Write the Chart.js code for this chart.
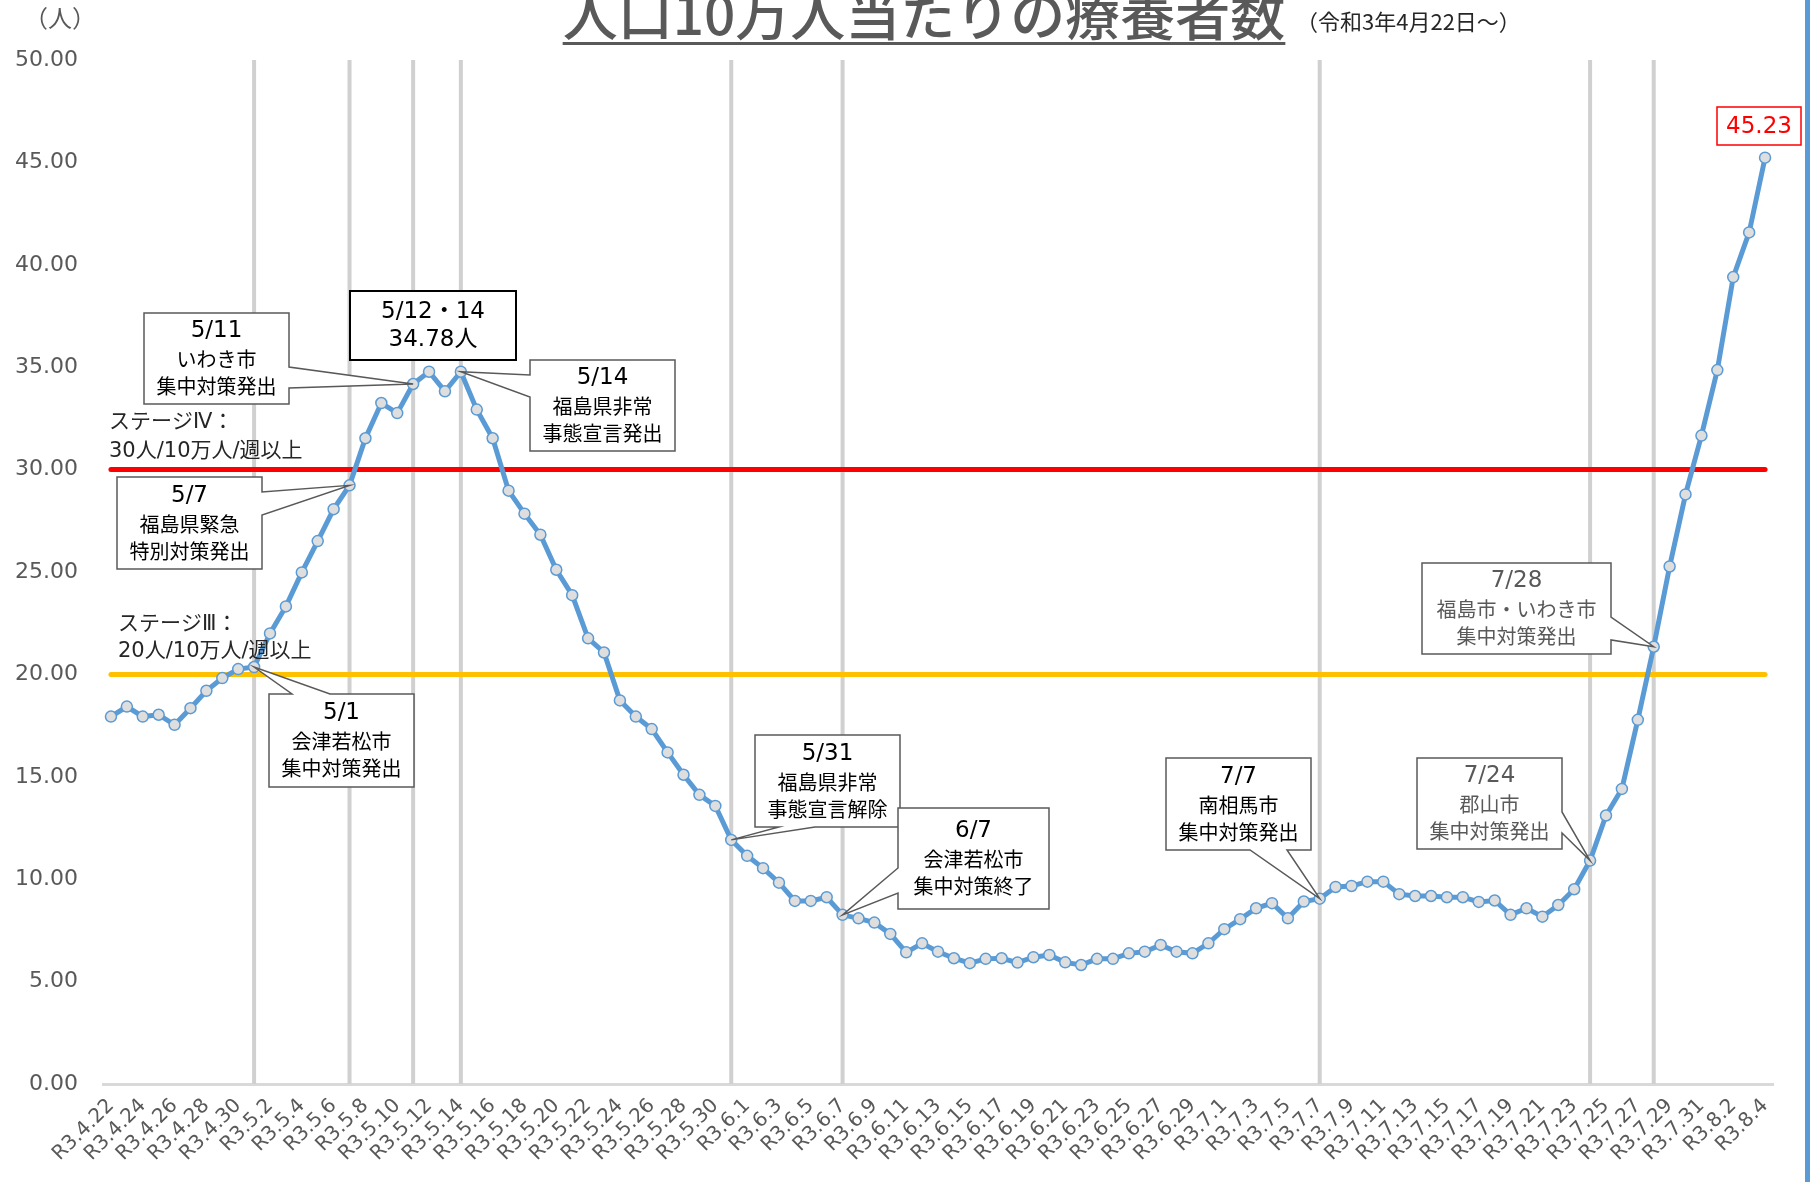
<!DOCTYPE html>
<html>
<head>
<meta charset="utf-8">
<script src="https://cdn.jsdelivr.net/npm/chart.js@4"></script>
<style>
html, body { margin: 0; padding: 0; background: #fff; }
canvas { display: block; }
</style>
</head>
<body>
<canvas id="chart" width="1812" height="1182"></canvas>
<script>
var CJK = "'Noto Sans CJK JP', sans-serif";
var NUM = "'DejaVu Sans', 'Noto Sans CJK JP', sans-serif";

// categories: R3.4.22 .. R3.8.4, one per day
var monthRanges = [[4, 22, 30], [5, 1, 31], [6, 1, 30], [7, 1, 31], [8, 1, 4]];
var labels = [];
monthRanges.forEach(function (m) {
    for (var d = m[1]; d <= m[2]; d++) labels.push('R3.' + m[0] + '.' + d);
});

// 療養者数 per 100k
var values = [
    17.94, 18.43, 17.94, 18.03, 17.54, 18.35, 19.20, 19.82, 20.26,
    20.36, 22.00, 23.32, 24.98, 26.51, 28.07, 29.23, 31.53, 33.25, 32.76,
    34.18, 34.78, 33.82, 34.78, 32.93, 31.53, 28.97, 27.85, 26.82, 25.11,
    23.87, 21.76, 21.07, 18.73, 17.94, 17.33, 16.19, 15.10, 14.12, 13.58,
    11.92,
    11.14, 10.54, 9.83, 8.94, 8.94, 9.12, 8.26, 8.09, 7.88, 7.33,
    6.43, 6.87, 6.46, 6.14, 5.90, 6.11, 6.14, 5.93, 6.19, 6.30,
    5.94, 5.81, 6.11, 6.11, 6.38, 6.46, 6.79, 6.46, 6.38, 6.87,
    7.56, 8.05, 8.58, 8.83, 8.09, 8.91, 9.05, 9.62, 9.67, 9.88,
    9.88, 9.27, 9.18, 9.18, 9.12, 9.12, 8.89, 8.96, 8.26, 8.58,
    8.17, 8.74, 9.51, 10.91, 13.11, 14.41, 17.78, 21.35, 25.27, 28.79,
    31.66, 34.86, 39.40, 41.58, 45.23
];

var eventDates = ['R3.5.1', 'R3.5.7', 'R3.5.11', 'R3.5.14', 'R3.5.31', 'R3.6.7', 'R3.7.7', 'R3.7.24', 'R3.7.28'];

var stageValues = [30, 20];
var stageColors = ['#ff0000', '#ffc000'];
var stageTexts = [['ステージⅣ：', '30人/10万人/週以上'], ['ステージⅢ：', '20人/10万人/週以上']];

// callout boxes: box = [left, top, right, bottom], wedge = base on the given side
var callouts = [
    { date: 'R3.5.11', box: [144, 313, 289, 404], side: 'right', wedge: [367, 388], lines: ['5/11', 'いわき市', '集中対策発出'] },
    { date: 'R3.5.14', box: [530, 360, 675, 451], side: 'left', wedge: [375, 397], lines: ['5/14', '福島県非常', '事態宣言発出'] },
    { date: 'R3.5.7', box: [117, 477, 262, 569], side: 'right', wedge: [492, 515], lines: ['5/7', '福島県緊急', '特別対策発出'] },
    { date: 'R3.5.1', box: [269, 694, 414, 787], side: 'top', wedge: [292, 330], lines: ['5/1', '会津若松市', '集中対策発出'] },
    { date: 'R3.5.31', box: [755, 735, 900, 827], side: 'bottom', wedge: [779, 815], lines: ['5/31', '福島県非常', '事態宣言解除'] },
    { date: 'R3.6.7', box: [898, 808, 1049, 909], side: 'left', wedge: [868, 893], lines: ['6/7', '会津若松市', '集中対策終了'] },
    { date: 'R3.7.7', box: [1166, 758, 1311, 850], side: 'bottom', wedge: [1250, 1287], lines: ['7/7', '南相馬市', '集中対策発出'] },
    { date: 'R3.7.24', box: [1417, 758, 1562, 849], side: 'right', wedge: [812, 833], lines: ['7/24', '郡山市', '集中対策発出'], color: '#595959' },
    { date: 'R3.7.28', box: [1422, 563, 1611, 654], side: 'right', wedge: [617, 640], lines: ['7/28', '福島市・いわき市', '集中対策発出'], color: '#595959' }
];

function pointAt(chart, date) {
    var i = labels.indexOf(date);
    var el = chart.getDatasetMeta(0).data[i];
    return { x: el.x, y: el.y };
}

function drawCallout(ctx, tip, c) {
    var l = c.box[0], t = c.box[1], r = c.box[2], b = c.box[3];
    var a = c.wedge[0], e = c.wedge[1];
    ctx.beginPath();
    ctx.moveTo(l, t);
    if (c.side === 'top') { ctx.lineTo(a, t); ctx.lineTo(tip.x, tip.y); ctx.lineTo(e, t); }
    ctx.lineTo(r, t);
    if (c.side === 'right') { ctx.lineTo(r, a); ctx.lineTo(tip.x, tip.y); ctx.lineTo(r, e); }
    ctx.lineTo(r, b);
    if (c.side === 'bottom') { ctx.lineTo(e, b); ctx.lineTo(tip.x, tip.y); ctx.lineTo(a, b); }
    ctx.lineTo(l, b);
    if (c.side === 'left') { ctx.lineTo(l, e); ctx.lineTo(tip.x, tip.y); ctx.lineTo(l, a); }
    ctx.closePath();
    ctx.fillStyle = '#fff';
    ctx.fill();
    ctx.strokeStyle = '#595959';
    ctx.lineWidth = 1.5;
    ctx.stroke();

    var cx = (l + r) / 2, cy = (t + b) / 2;
    ctx.fillStyle = c.color || '#000';
    ctx.textAlign = 'center';
    ctx.textBaseline = 'middle';
    ctx.font = '23px ' + NUM;
    ctx.fillText(c.lines[0], cx, cy - 27);
    ctx.font = '20px ' + CJK;
    ctx.fillText(c.lines[1], cx, cy + 1);
    ctx.fillText(c.lines[2], cx, cy + 28);
}

var overlay = {
    id: 'overlay',
    beforeDatasetsDraw: function (chart) {
        var ctx = chart.ctx, area = chart.chartArea;
        var xs = chart.scales.x, ys = chart.scales.y;
        ctx.save();
        // event lines
        ctx.strokeStyle = '#d0d0d0';
        ctx.lineWidth = 4;
        eventDates.forEach(function (d) {
            var x = xs.getPixelForValue(labels.indexOf(d));
            ctx.beginPath();
            ctx.moveTo(x, area.top);
            ctx.lineTo(x, area.bottom);
            ctx.stroke();
        });
        // stage lines
        var x0 = xs.getPixelForValue(0), x1 = xs.getPixelForValue(labels.length - 1);
        ctx.lineCap = 'round';
        ctx.lineWidth = 5;
        stageValues.forEach(function (v, k) {
            var y = ys.getPixelForValue(v);
            ctx.strokeStyle = stageColors[k];
            ctx.beginPath();
            ctx.moveTo(x0, y);
            ctx.lineTo(x1, y);
            ctx.stroke();
        });
        ctx.restore();
    },
    afterDatasetsDraw: function (chart) {
        var ctx = chart.ctx;
        ctx.save();

        // stage texts
        ctx.fillStyle = '#262626';
        ctx.textAlign = 'left';
        ctx.textBaseline = 'middle';
        ctx.font = '21px ' + NUM;
        ctx.fillText(stageTexts[0][0], 109, 423);
        ctx.fillText(stageTexts[0][1], 109, 452);
        ctx.fillText(stageTexts[1][0], 118, 625);
        ctx.fillText(stageTexts[1][1], 118, 652);

        callouts.forEach(function (c) {
            drawCallout(ctx, pointAt(chart, c.date), c);
        });

        // peak box
        ctx.fillStyle = '#fff';
        ctx.fillRect(350, 291, 166, 69);
        ctx.strokeStyle = '#000';
        ctx.lineWidth = 2;
        ctx.strokeRect(350, 291, 166, 69);
        ctx.fillStyle = '#000';
        ctx.textAlign = 'center';
        ctx.font = '23px ' + NUM;
        ctx.fillText('5/12・14', 433, 312);
        ctx.fillText(values[labels.indexOf('R3.5.12')].toFixed(2) + '人', 433, 340);

        // latest value
        var last = values[values.length - 1];
        ctx.fillStyle = '#fff';
        ctx.fillRect(1717, 107, 84, 38);
        ctx.strokeStyle = '#ff0000';
        ctx.lineWidth = 1.5;
        ctx.strokeRect(1717, 107, 84, 38);
        ctx.fillStyle = '#ff0000';
        ctx.font = '23px ' + NUM;
        ctx.fillText(last.toFixed(2), 1759, 127);

        ctx.restore();
    },
    afterDraw: function (chart) {
        var ctx = chart.ctx;
        ctx.save();
        // title
        ctx.fillStyle = '#595959';
        ctx.textAlign = 'center';
        ctx.textBaseline = 'alphabetic';
        ctx.font = '500 55px ' + CJK;
        var title = '人口10万人当たりの療養者数';
        ctx.fillText(title, 924, 35);
        var w = ctx.measureText(title).width;
        ctx.fillRect(924 - w / 2, 42, w, 3);
        ctx.textAlign = 'left';
        ctx.textBaseline = 'middle';
        ctx.fillStyle = '#262626';
        ctx.font = '22px ' + CJK;
        ctx.fillText('（令和3年4月22日～）', 1296, 22);
        ctx.fillStyle = '#595959';
        ctx.font = '24px ' + CJK;
        ctx.textAlign = 'center';
        ctx.fillText('（人）', 60, 18);
        // frame edge on the right
        ctx.fillStyle = '#5b9bd5';
        ctx.fillRect(1805, 0, 5, 1182);
        ctx.restore();
    }
};

new Chart(document.getElementById('chart'), {
    type: 'line',
    data: {
        labels: labels,
        datasets: [{
            data: values,
            borderColor: '#5b9bd5',
            borderWidth: 5,
            pointRadius: 5.5,
            pointBackgroundColor: '#dedede',
            pointBorderColor: '#5b9bd5',
            pointBorderWidth: 1.5,
            tension: 0
        }]
    },
    options: {
        responsive: false,
        animation: false,
        layout: { padding: { left: 0, right: 39, top: 60, bottom: 0 } },
        plugins: { legend: { display: false }, tooltip: { enabled: false } },
        scales: {
            x: {
                offset: true,
                grid: { display: false, drawTicks: false },
                border: { color: '#d9d9d9', width: 3 },
                ticks: {
                    autoSkip: false,
                    maxRotation: 45,
                    minRotation: 45,
                    padding: 10,
                    color: '#595959',
                    font: { family: NUM, size: 20 },
                    callback: function (v, i) { return i % 2 === 0 ? labels[i] : ''; }
                },
                afterFit: function (s) { s.height = 98; }
            },
            y: {
                min: 0,
                max: 50,
                grid: { display: false, drawTicks: false },
                border: { display: false },
                ticks: {
                    stepSize: 5,
                    padding: 25,
                    color: '#595959',
                    font: { family: NUM, size: 22 },
                    callback: function (v) { return v.toFixed(2); }
                },
                afterFit: function (s) { s.width = 103; }
            }
        }
    },
    plugins: [overlay]
});
</script>
</body>
</html>
